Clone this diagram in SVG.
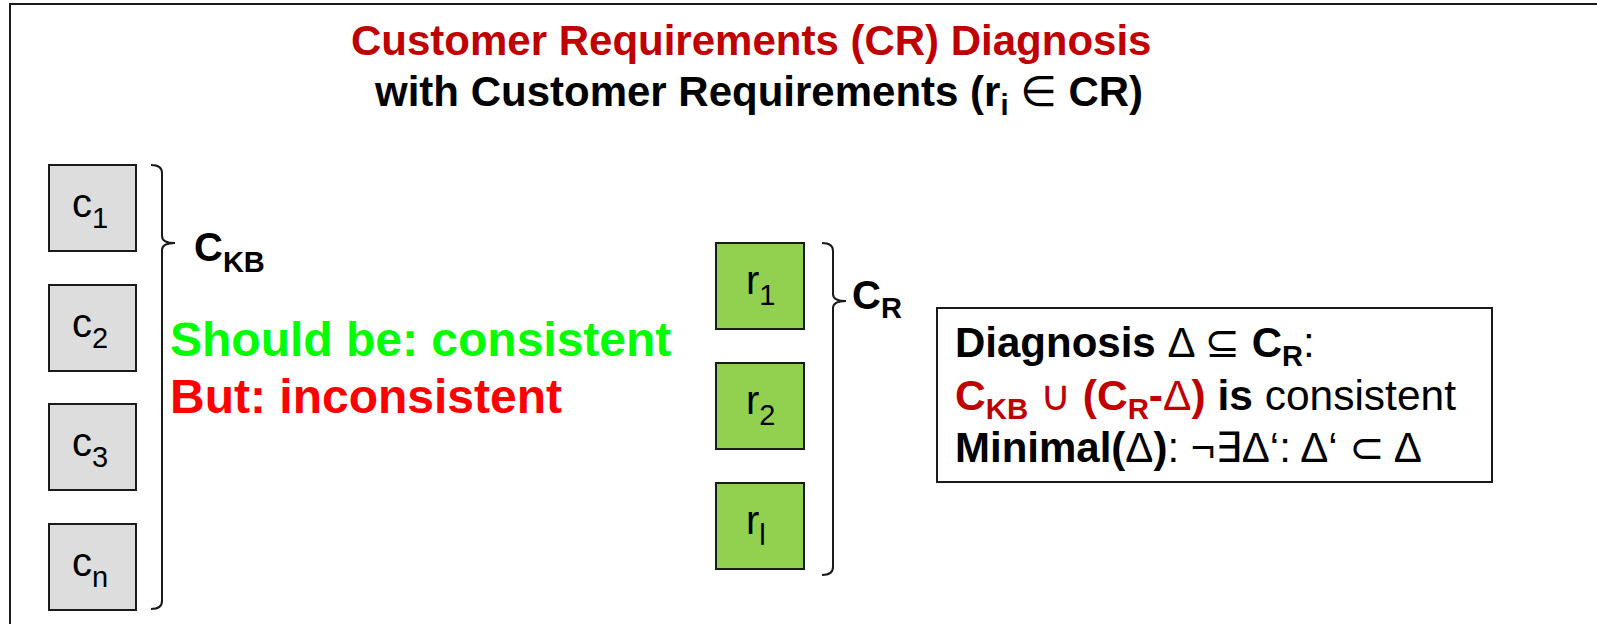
<svg xmlns="http://www.w3.org/2000/svg" width="1597" height="624" viewBox="0 0 1597 624">
<style>
text{font-family:"Liberation Sans",Arial,"DejaVu Sans",sans-serif;}
.b{font-weight:bold;}
.n{font-weight:normal;}
.cbox{fill:#DDDDDD;stroke:#1a1a1a;stroke-width:2;}
.rbox{fill:#92D050;stroke:#1a1a1a;stroke-width:2;}
.lbl{font-size:40px;fill:#000;}
.sub{font-size:29px;}
.brace{fill:none;stroke:#1a1a1a;stroke-width:2;}
.dk{fill:#C00000;}
</style>
<rect x="0" y="0" width="1597" height="624" fill="#fff"/>
<path d="M10,625 V4 H1597" fill="none" stroke="#1a1a1a" stroke-width="2"/>
<g id="title">
<text x="351" y="55" class="b dk" font-size="42">Customer Requirements (CR) Diagnosis</text>
<text x="375" y="106" class="b" font-size="42">with Customer Requirements (r<tspan font-size="29" dy="9">i</tspan><tspan dy="-9"> </tspan><tspan class="n">∈</tspan><tspan> CR)</tspan></text>
</g>
<g id="c1"><rect class="cbox" x="49" y="165" width="87" height="86"/><text class="lbl" x="72" y="217">c<tspan class="sub" dy="11">1</tspan></text></g>
<g id="c2"><rect class="cbox" x="49" y="285" width="87" height="86"/><text class="lbl" x="72" y="337">c<tspan class="sub" dy="11">2</tspan></text></g>
<g id="c3"><rect class="cbox" x="49" y="404" width="87" height="86"/><text class="lbl" x="72" y="456">c<tspan class="sub" dy="11">3</tspan></text></g>
<g id="cn"><rect class="cbox" x="49" y="524" width="87" height="86"/><text class="lbl" x="72" y="576">c<tspan class="sub" dy="11">n</tspan></text></g>
<g id="r1"><rect class="rbox" x="716" y="243" width="88" height="86"/><text class="lbl" x="746" y="294">r<tspan class="sub" dy="11">1</tspan></text></g>
<g id="r2"><rect class="rbox" x="716" y="363" width="88" height="86"/><text class="lbl" x="746" y="414">r<tspan class="sub" dy="11">2</tspan></text></g>
<g id="rl"><rect class="rbox" x="716" y="483" width="88" height="86"/><text class="lbl" x="746" y="534">r<tspan class="sub" dy="11">l</tspan></text></g>
<g id="connectors">
<path class="brace" d="M151,165 Q162,165 162,173 V236 Q162,243 175,243 Q162,243 162,250 V601 Q162,609 151,609"/>
<path class="brace" d="M822,243 Q833,243 833,251 V294 Q833,301 846,301 Q833,301 833,308 V567 Q833,575 822,575"/>
</g>
<g id="ckb"><text x="194" y="261" class="b" font-size="40">C<tspan class="sub" dy="11">KB</tspan></text></g>
<g id="cr"><text x="852" y="309" class="b" font-size="40">C<tspan class="sub" dy="9">R</tspan></text></g>
<g id="status">
<text x="170" y="356" class="b" font-size="48" fill="#00FF00">Should be: consistent</text>
<text x="170" y="413" class="b" font-size="48" fill="#FF0000">But: inconsistent</text>
</g>
<g id="diagnosis">
<rect x="937" y="308" width="555" height="174" fill="#fff" stroke="#1a1a1a" stroke-width="2"/>
<text x="955" y="357" font-size="42"><tspan class="b">Diagnosis </tspan><tspan class="n">Δ ⊆ </tspan><tspan class="b">C</tspan><tspan class="b sub" dy="9">R</tspan><tspan class="n" dy="-9">:</tspan></text>
<text x="955" y="410" font-size="42" textLength="501" lengthAdjust="spacingAndGlyphs"><tspan class="b dk">C</tspan><tspan class="b dk sub" dy="9">KB</tspan><tspan class="n dk" dy="-9"> ∪ </tspan><tspan class="b dk">(C</tspan><tspan class="b dk sub" dy="9">R</tspan><tspan class="b dk" dy="-9">-</tspan><tspan class="n dk">Δ</tspan><tspan class="b dk">)</tspan><tspan class="b"> is</tspan><tspan class="n"> consistent</tspan></text>
<text x="955" y="462" font-size="42"><tspan class="b">Minimal(</tspan><tspan class="n">Δ</tspan><tspan class="b">)</tspan><tspan class="n">: ¬∃Δ‘: Δ‘ ⊂ Δ</tspan></text>
</g>
</svg>
